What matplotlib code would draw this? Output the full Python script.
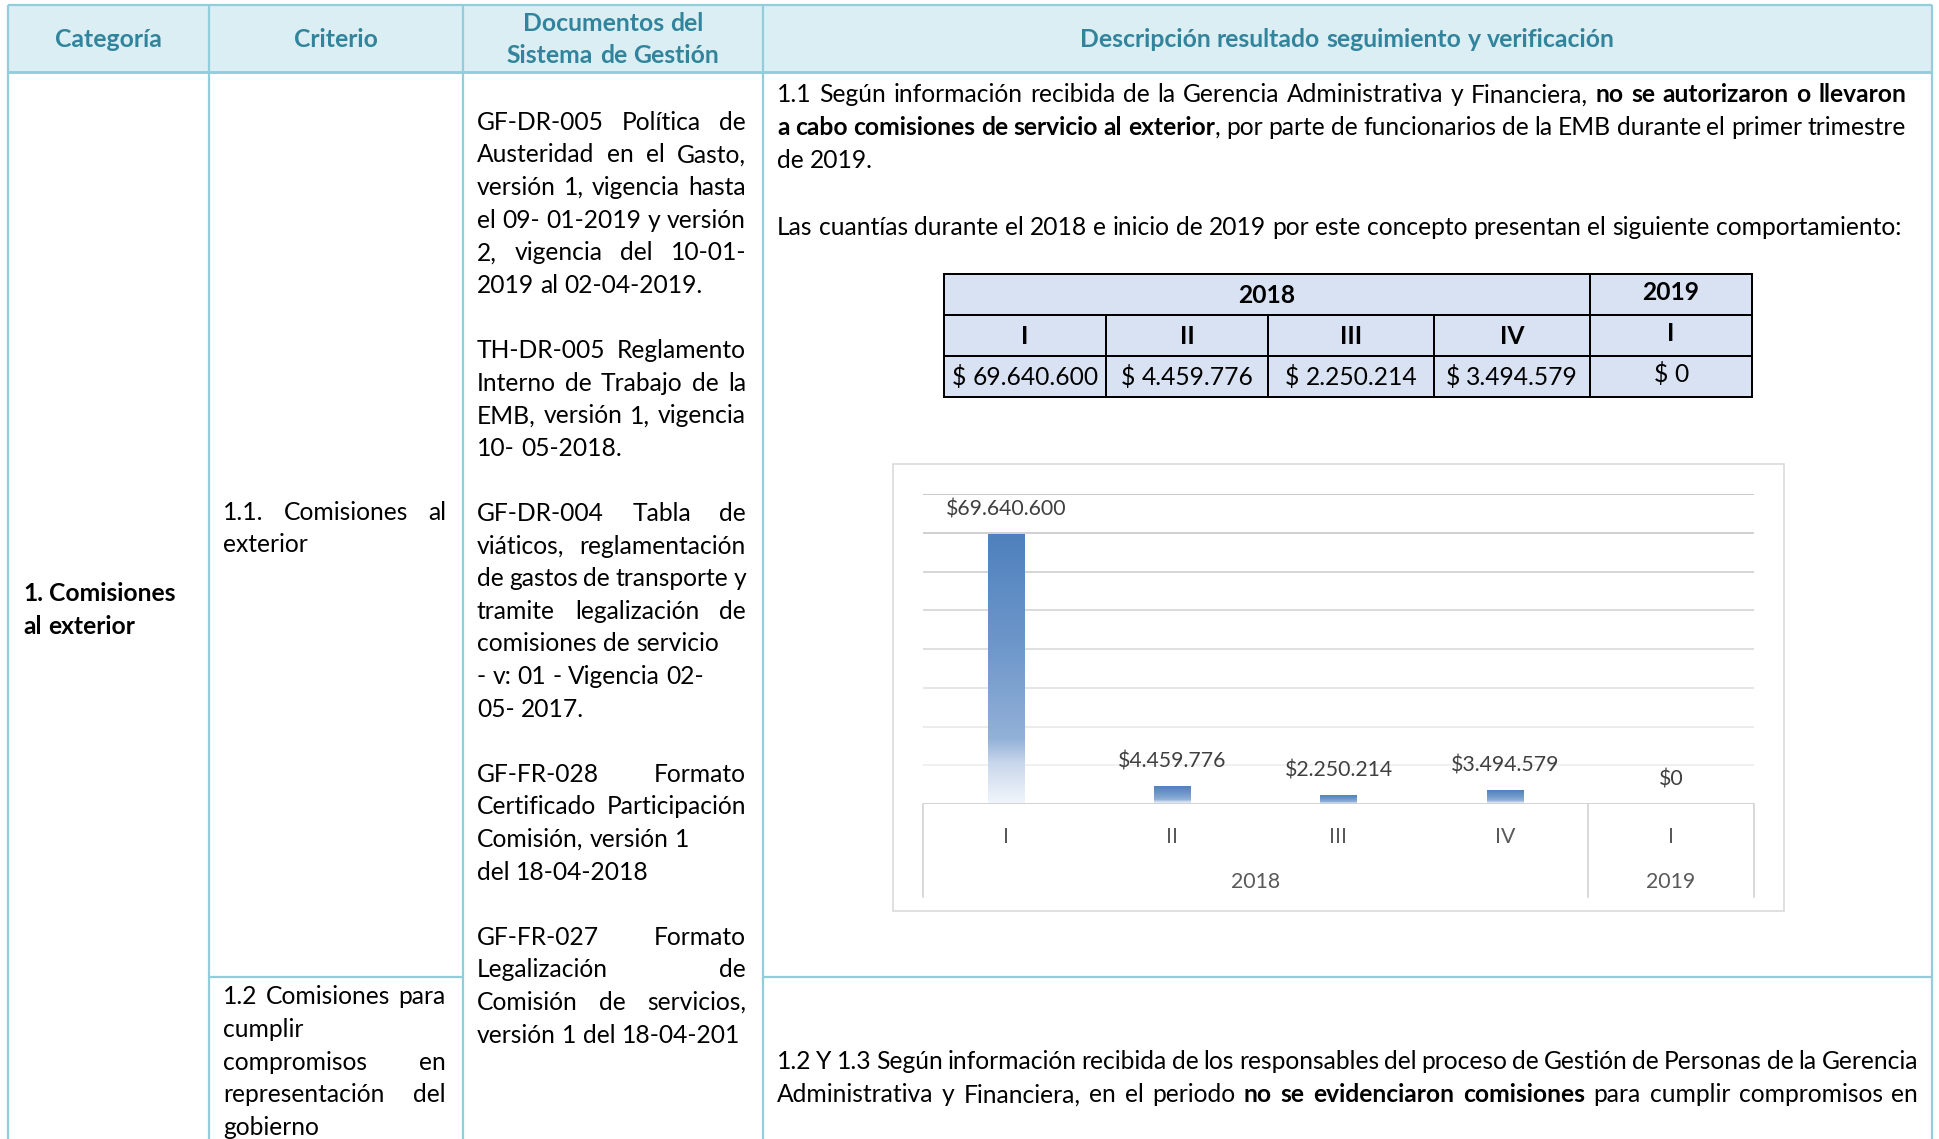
import re
import numpy as np
import matplotlib
matplotlib.use('Agg')
import matplotlib.pyplot as plt
from matplotlib.patches import Rectangle
from matplotlib.colors import LinearSegmentedColormap
from matplotlib.font_manager import FontProperties

# ---------------- data ----------------
quarters = ['I', 'II', 'III', 'IV', 'I']
years = ['2018', '2018', '2018', '2018', '2019']
amounts = [69640600, 4459776, 2250214, 3494579, 0]

headers = ['Categoría', 'Criterio', 'Documentos del\nSistema de Gestión',
           'Descripción resultado seguimiento y verificación']

category_lines = ['1. Comisiones', 'al exterior']

criterio_a = [('1.1. Comisiones al', True), ('exterior', False)]
criterio_b = [('1.2 Comisiones para', True), ('cumplir', False), ('compromisos en', True),
              ('representación del', True), ('gobierno', False)]

documentos = [
    ('GF-DR-005 Política de', True), ('Austeridad en el Gasto,', True),
    ('versión 1, vigencia hasta', True), ('el 09- 01-2019 y versión', True),
    ('2, vigencia del 10-01-', True), ('2019 al 02-04-2019.', False),
    None,
    ('TH-DR-005 Reglamento', True), ('Interno de Trabajo de la', True),
    ('EMB, versión 1, vigencia', True), ('10- 05-2018.', False),
    None,
    ('GF-DR-004 Tabla de', True), ('viáticos, reglamentación', True),
    ('de gastos de transporte y', True), ('tramite legalización de', True),
    ('comisiones de servicio', False), ('- v: 01 - Vigencia 02-', False), ('05- 2017.', False),
    None,
    ('GF-FR-028 Formato', True), ('Certificado Participación', True),
    ('Comisión, versión 1', False), ('del 18-04-2018', False),
    None,
    ('GF-FR-027 Formato', True), ('Legalización de', True),
    ('Comisión de servicios,', True), ('versión 1 del 18-04-201', False),
]

desc_p1 = [
    ([('1.1 Según información recibida de la Gerencia Administrativa y Financiera, ', False),
      ('no se autorizaron o llevaron', True)], True),
    ([('a cabo comisiones de servicio al exterior', True),
      (', por parte de funcionarios de la EMB durante el primer trimestre', False)], True),
    ([('de 2019.', False)], False),
]
desc_p2 = [([('Las cuantías durante el 2018 e inicio de 2019 por este concepto presentan el siguiente comportamiento:', False)], False)]
desc_p3 = [
    ([('1.2 Y 1.3 Según información recibida de los responsables del proceso de Gestión de Personas de la Gerencia', False)], True),
    ([('Administrativa y Financiera, en el periodo ', False), ('no se evidenciaron comisiones', True),
      (' para cumplir compromisos en', False)], True),
]

# ---------------- figure ----------------
W, H, DPI = 1940, 1139, 100
fig = plt.figure(figsize=(W / DPI, H / DPI), dpi=DPI)
fig.patch.set_facecolor('white')
ax = fig.add_axes([0, 0, 1, 1])
ax.set_xlim(0, W)
ax.set_ylim(H, 0)
ax.axis('off')
renderer = fig.canvas.get_renderer()

FONT = ['Lato', 'DejaVu Sans']


def fp(size, bold=False):
    return FontProperties(family=FONT, size=size, weight='bold' if bold else 'normal')


def tw(s, size, bold=False):
    w, h, d = renderer.get_text_width_height_descent(s, fp(size, bold), ismath=False)
    return w


def words_of(runs):
    words = [[]]
    for text, bold in runs:
        for p in re.split(r'( )', text):
            if p == ' ':
                if words[-1]:
                    words.append([])
            elif p:
                words[-1].append((p, bold))
    if not words[-1]:
        words.pop()
    return words


def draw_line(x0, x1, yc, runs, size, justify=False, color='black', ha='left', axis=None):
    axis = axis or ax
    words = words_of(runs)

    def measure(sz):
        widths = [sum(tw(t, sz, b) for t, b in w) for w in words]
        sp = tw('a a', sz) - 2 * tw('a', sz)
        return widths, sp

    widths, sp = measure(size)
    total = sum(widths)
    n = len(words)
    if justify and n > 1 and total + (n - 1) * 0.6 * sp > (x1 - x0):
        size = size * (x1 - x0) / (total + (n - 1) * 0.6 * sp)
        widths, sp = measure(size)
        total = sum(widths)
    if justify and n > 1:
        gap = (x1 - x0 - total) / (n - 1)
    else:
        gap = sp
    linew = total + gap * (n - 1)
    x = x0 if ha == 'left' else (x0 + x1) / 2 - linew / 2
    base = yc + 0.34 * size * DPI / 72
    for w, wd in zip(words, widths):
        xx = x
        for t, b in w:
            axis.text(xx, base, t, fontproperties=fp(size, b), color=color,
                      va='baseline', ha='left')
            xx += tw(t, size, b)
        x += wd + gap


# font sizes fitted to measured widths in the reference
BODY = 10 * (1905 - 777) / tw(desc_p2[0][0][0][0], 10)
HEAD = 10 * 535 / tw(headers[3], 10, True)
LAB = 10 * 121 / tw('$69.640.600', 10)

# ---------------- main table ----------------
BORDER = '#92cddc'
XL, X1, X2, X3, XR = 8, 209, 463, 763, 1932
YT, YH, YS = 5, 72, 977

ax.add_patch(Rectangle((XL, YT), XR - XL, YH - YT, facecolor='#daeef3', edgecolor='none', zorder=0))
lw = 2.2 * 72 / DPI
ax.plot([XL, XR], [YT, YT], color=BORDER, lw=lw, solid_capstyle='butt')
ax.plot([XL, XR], [YH, YH], color=BORDER, lw=lw * 1.3, solid_capstyle='butt')
for xv in (XL, X1, X2, X3, XR):
    ax.plot([xv, xv], [YT, H], color=BORDER, lw=lw, solid_capstyle='butt')
ax.plot([X1, X2], [YS, YS], color=BORDER, lw=lw, solid_capstyle='butt')
ax.plot([X3, XR], [YS, YS], color=BORDER, lw=lw, solid_capstyle='butt')

HCOL = '#31849b'
hx = [(XL + X1) / 2, (X1 + X2) / 2, (X2 + X3) / 2, (X3 + XR) / 2]
for i, htxt in enumerate(headers):
    lines = htxt.split('\n')
    ys = [39] if len(lines) == 1 else [23, 55]
    for ln, yy in zip(lines, ys):
        draw_line(hx[i] - 300, hx[i] + 300, yy, [(ln, True)], HEAD, color=HCOL, ha='center')

# column 1
for i, ln in enumerate(category_lines):
    draw_line(23, 200, 593 + i * 32.6, [(ln, True)], BODY)

# column 2
for i, (ln, j) in enumerate(criterio_a):
    draw_line(223, 446, 511.5 + i * 32.6, [(ln, False)], BODY, justify=j)
for i, (ln, j) in enumerate(criterio_b):
    draw_line(223, 446, 996 + i * 32.6, [(ln, False)], BODY, justify=j)

# column 3
for i, item in enumerate(documentos):
    if item is None:
        continue
    ln, j = item
    draw_line(477, 746, 121.5 + i * 32.6, [(ln, False)], BODY, justify=j)

# column 4 paragraphs
for i, (runs, j) in enumerate(desc_p1):
    draw_line(777, 1906, 94 + i * 33, runs, BODY, justify=j)
for runs, j in desc_p2:
    draw_line(777, 1906, 227, runs, BODY, justify=j)
for i, (runs, j) in enumerate(desc_p3):
    draw_line(777, 1918, 1061 + i * 33, runs, BODY, justify=j)


def fmt(v, sep=''):
    return '$' + sep + f'{v:,}'.replace(',', '.')


# ---------------- small data table ----------------
cx = [944, 1106, 1268, 1434, 1590, 1752]
ry = [274, 315, 356, 397]
TFILL = '#d9e2f3'
ax.add_patch(Rectangle((cx[0], ry[0]), cx[-1] - cx[0], ry[-1] - ry[0], facecolor=TFILL,
                       edgecolor='none', zorder=0))
blw = 2.0 * 72 / DPI
groups = []
for i, y in enumerate(years):
    if groups and groups[-1][0] == y:
        groups[-1][2] = i
    else:
        groups.append([y, i, i])
for y, a, b in groups:
    ax.add_patch(Rectangle((cx[a], ry[0]), cx[b + 1] - cx[a], ry[1] - ry[0], facecolor='none',
                           edgecolor='black', lw=blw))
    off = -3 if y == years[-1] else 0
    draw_line(cx[a], cx[b + 1], (ry[0] + ry[1]) / 2 + off, [(y, True)], BODY, ha='center')
for i, (q, v) in enumerate(zip(quarters, amounts)):
    off = -3 if i == len(quarters) - 1 else 0
    for r in (1, 2):
        ax.add_patch(Rectangle((cx[i], ry[r]), cx[i + 1] - cx[i], ry[r + 1] - ry[r], facecolor='none',
                               edgecolor='black', lw=blw))
    draw_line(cx[i], cx[i + 1], (ry[1] + ry[2]) / 2 + off, [(q, True)], BODY, ha='center')
    draw_line(cx[i], cx[i + 1], (ry[2] + ry[3]) / 2 + off, [(fmt(v, ' '), False)], BODY, ha='center')

# ---------------- chart ----------------
ax.add_patch(Rectangle((893, 464), 1784 - 893, 911 - 464, facecolor='white', edgecolor='#d9d9d9',
                       lw=1.6 * 72 / DPI, zorder=1))
PL, PR, PT, PB = 923, 1754, 494, 804
ax2 = fig.add_axes([PL / W, 1 - PB / H, (PR - PL) / W, (PB - PT) / H])
ax2.patch.set_visible(False)
for s in ax2.spines.values():
    s.set_visible(False)
ax2.set_xticks([])
ax2.set_yticks([])

x = np.arange(len(amounts))
ymax = 80e6
grid_vals = np.arange(10e6, ymax + 1, 10e6)
for k, gv in enumerate(grid_vals):
    t = k / (len(grid_vals) - 1)
    c = np.array([0.93, 0.93, 0.93]) * (1 - t) + np.array([0.75, 0.75, 0.75]) * t
    ax2.axhline(gv, color=c, lw=1.6 * 72 / DPI, zorder=1)
ax2.axhline(0, color='#d0d0d0', lw=1.8 * 72 / DPI, zorder=3)

bars = ax2.bar(x, amounts, width=0.217, color='none', edgecolor='none')
cmap = LinearSegmentedColormap.from_list(
    'grad', [(0, '#f2f6fb'), (0.15, '#c9d7ec'), (0.24, '#93b1d8'), (0.57, '#6f98cb'), (1, '#4f81bd')])
grad = np.linspace(0, 1, 256).reshape(-1, 1)
for r in bars:
    h = r.get_height()
    if h <= 0:
        continue
    ax2.imshow(grad, extent=[r.get_x(), r.get_x() + r.get_width(), 0, h], origin='lower',
               aspect='auto', cmap=cmap, zorder=2, interpolation='bilinear')
ax2.set_xlim(-0.5, len(amounts) - 0.5)
ax2.set_ylim(0, ymax)

for xi, v in zip(x, amounts):
    ax2.annotate(fmt(v), (xi, v), xytext=(0, 18), textcoords='offset points', ha='center',
                 va='center', fontproperties=fp(LAB), color='#404040', zorder=4)

trans = ax2.get_xaxis_transform()
depth = (897 - PB) / (PB - PT)
for xi, q in zip(x, quarters):
    ax2.text(xi, -(837 - PB) / (PB - PT), q, transform=trans, ha='center', va='center',
             fontproperties=fp(LAB), color='#595959', clip_on=False)
bounds = [-0.5] + [b + 0.5 for _, _, b in groups]
for bx in bounds:
    ax2.plot([bx, bx], [0, -depth], transform=trans, color='#d0d0d0', lw=1.6 * 72 / DPI, clip_on=False)
for y, a, b in groups:
    ax2.text((a + b) / 2, -(882 - PB) / (PB - PT), y, transform=trans, ha='center', va='center',
             fontproperties=fp(LAB), color='#595959', clip_on=False)

fig.savefig('out.png', dpi=DPI, facecolor='white')
